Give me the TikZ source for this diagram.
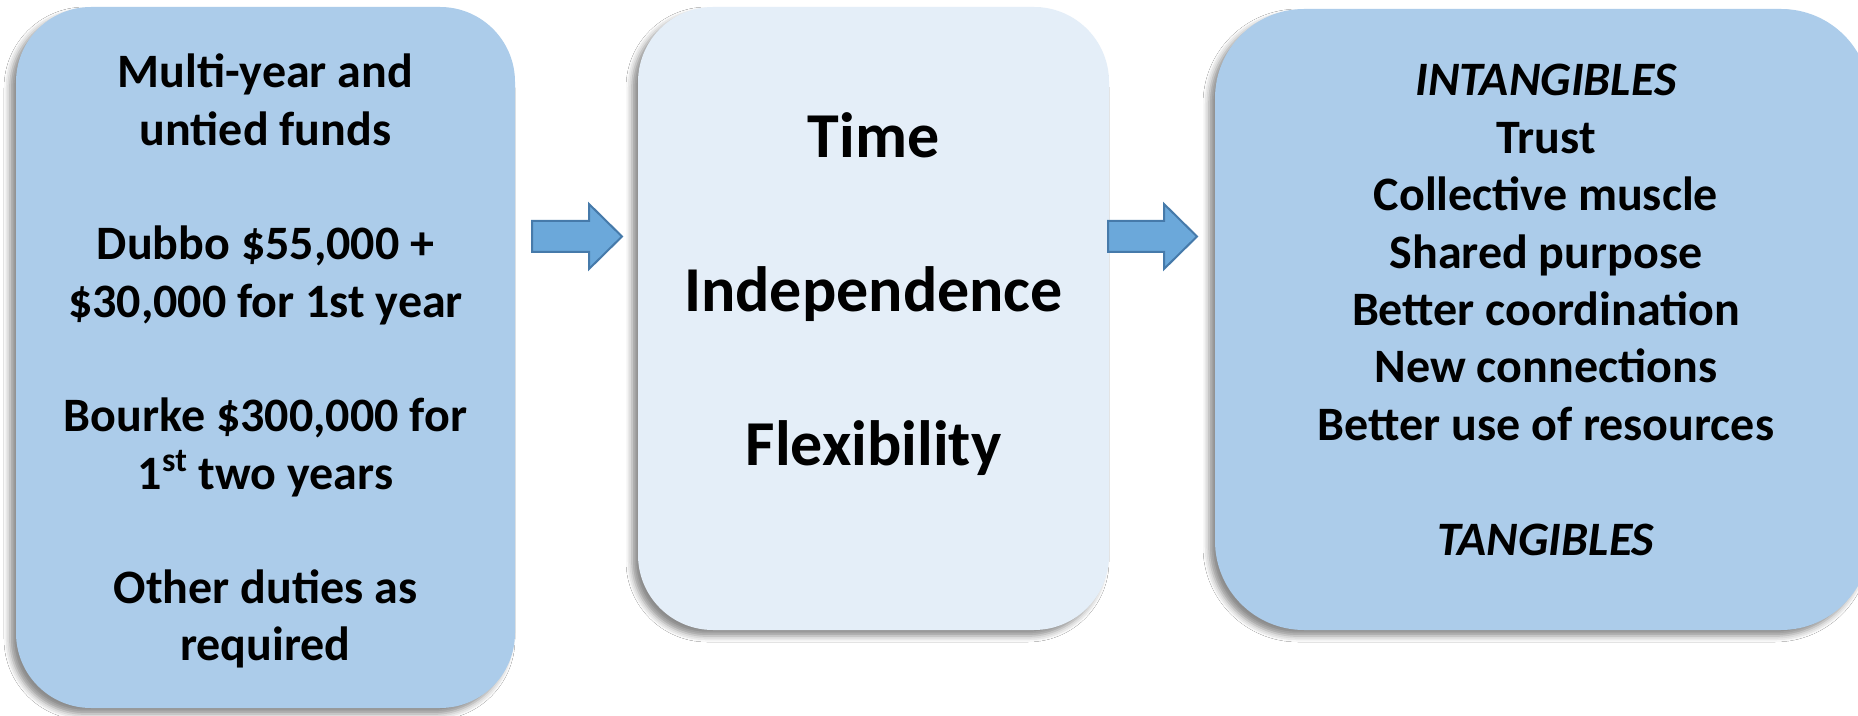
\documentclass[tikz,border=0pt]{standalone}
\usepackage{fontspec}
\setmainfont{Carlito}
\usetikzlibrary{shadows.blur}
\definecolor{boxblue}{RGB}{172,204,234}
\definecolor{boxpale}{RGB}{228,238,248}
\definecolor{arrowfill}{RGB}{107,168,218}
\definecolor{arrowline}{RGB}{70,122,170}
\newcommand{\stackrows}[2]{\vtop{\baselineskip=#1\lineskiplimit=-100pt\lineskip=0pt\halign{\hfil##\hfil\cr#2\cr}}}
\begin{document}
\begin{tikzpicture}[x=0.5pt,y=-0.5pt,
  panel/.style={rectangle, inner sep=0pt,
    blur shadow={shadow xshift=-3pt, shadow yshift=-3pt, shadow blur radius=3pt, shadow opacity=45}},
  smalltxt/.style={inner sep=0pt, anchor=base, font=\fontsize{24pt}{28.7pt}\selectfont\bfseries},
  bigtxt/.style={inner sep=0pt, anchor=base, font=\fontsize{32pt}{38.5pt}\selectfont\bfseries},
  blockarrow/.style={fill=arrowfill, draw=arrowline, line width=1pt, line join=miter}]
\useasboundingbox (0,0) rectangle (1858,716);
\clip (0,0) rectangle (1858,716);
\fill[white] (0,0) rectangle (1858,716);

% panels
\node[panel, fill=boxblue, minimum width=249.5pt, minimum height=350.5pt, rounded corners=37.5pt] (b1) at (265.5,357.5) {};
\node[panel, fill=boxpale, minimum width=235.5pt, minimum height=311.5pt, rounded corners=37.5pt] (b2) at (873.5,318.5) {};
\node[panel, fill=boxblue, minimum width=327.5pt, minimum height=310.5pt, rounded corners=44.5pt] (b3) at (1542.5,319.5) {};

% texts
\node[smalltxt] (t1) at (265.5,88) {\stackrows{28.65pt}{Multi-year and\cr untied funds\cr\cr Dubbo \$55,000 +\cr \$30,000 for 1st year\cr\cr Bourke \$300,000 for\cr 1\textsuperscript{st} two years\cr\cr Other duties as\cr required}};
\node[bigtxt] (t2) at (873.5,158) {\stackrows{38.5pt}{Time\cr\cr Independence\cr\cr Flexibility}};
\node[smalltxt] (t3) at (1546,96) {\stackrows{28.7pt}{\textit{INTANGIBLES}\cr Trust\cr Collective muscle\cr Shared purpose\cr Better coordination\cr New connections\cr Better use of resources\cr\cr \textit{TANGIBLES}}};

% block arrows
\coordinate (a1) at (532,236.5);
\coordinate (a2) at (1108,236.5);
\draw[blockarrow] (a1) +(0,-15.5) -- +(57,-15.5) -- +(57,-32.5) -- +(90,0) -- +(57,32.5) -- +(57,15.5) -- +(0,15.5) -- cycle;
\draw[blockarrow] (a2) +(0,-15.5) -- +(56,-15.5) -- +(56,-32.5) -- +(89,0) -- +(56,32.5) -- +(56,15.5) -- +(0,15.5) -- cycle;
\end{tikzpicture}
\end{document}
